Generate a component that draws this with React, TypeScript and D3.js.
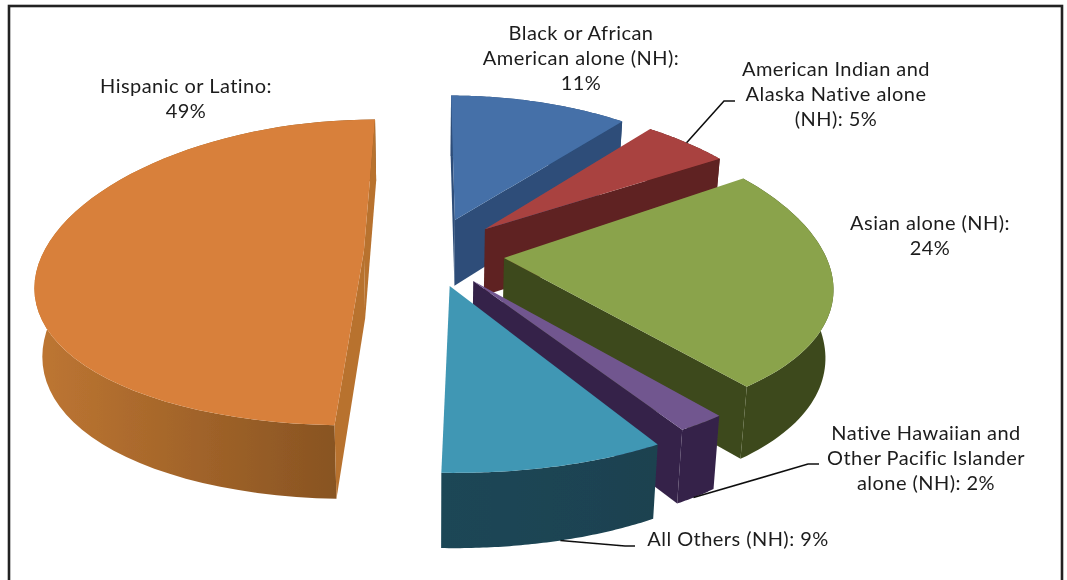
import React from "react";
import * as d3 from "d3";

// ---- data ----
const categories = [
  "Black or African American alone (NH)",
  "American Indian and Alaska Native alone (NH)",
  "Asian alone (NH)",
  "Native Hawaiian and Other Pacific Islander alone (NH)",
  "All Others (NH)",
  "Hispanic or Latino",
];
const shares = [11, 5.2, 23.5, 2, 8.8, 49.5];
const labelLines = [
  ["Black or African", "American alone (NH):", "11%"],
  ["American Indian and", "Alaska Native alone", "(NH): 5%"],
  ["Asian alone (NH):", "24%"],
  ["Native Hawaiian and", "Other Pacific Islander", "alone (NH): 2%"],
  ["All Others (NH): 9%"],
  ["Hispanic or Latino:", "49%"],
];

// ---- styles and layout ----
const explosions = [0.23, 0.23, 0.23, 0.23, 0.23, 0.21];
const rimLift = [0, 0, 0.04, 0.04, 0, 0];
const topColors = ["#4570A8", "#A94341", "#8AA34C", "#71568F", "#3F97B4", "#D8803A"];
const cutColors = ["#2D4E79", "#5E2120", "#3E4A1B", "#35234A", "#1B4352", "#B8722F"];
const rimColorsLeft = ["#2D4E79", "#5E2120", "#3E4A1B", "#35234A", "#1B4656", "#BE7632"];
const rimColorsRight = ["#2D4E79", "#5E2120", "#3E4A1B", "#35234A", "#1A4250", "#814F20"];
const labelCenters = [581, 836, 930, 926, 738, 186];
const labelBaselines = [40, 76, 230, 440, 546, 93];
const lineStep = 25.2;
// [slice, fraction along the rim, on lower rim?, elbow, end]
const leaders: [number, number, boolean, [number, number], [number, number]][] = [
  [1, 0.5, false, [724, 101], [735, 101]],
  [3, 0.57, true, [808, 464], [819, 464]],
  [4, 0.47, true, [625, 546], [635, 546]],
];

const W = 1067;
const H = 580;
const cx = 431, cy = 251.5, fx = 320, fy = 150, kx = 0.2, ky = 0.14;
const depth = 67, depthK = 0.09, baseShrink = 0.98;

type Pt = { x: number; y: number };
const top = (p: Pt): [number, number] => [
  cx + (fx * p.x) / (1 - kx * p.y),
  cy + (fy * p.y) / (1 - ky * p.y),
];
const base = (p: Pt): [number, number] => {
  const [sx, sy] = top(p);
  return [cx + (sx - cx) * baseShrink, sy + depth / (1 - depthK * p.y)];
};

const pieGen = d3.pie<number>().sort(null).startAngle(0).endAngle(2 * Math.PI);
const arcs = pieGen(shares);
const poly = d3.line();
const closed = (pts: [number, number][]) => poly(pts) + "Z";

const slices = arcs.map((a, i) => {
  const mid = (a.startAngle + a.endAngle) / 2;
  const apex: Pt = { x: explosions[i] * Math.sin(mid), y: -explosions[i] * Math.cos(mid) };
  const angle = d3.scaleLinear().domain([0, 1]).range([a.startAngle, a.endAngle]);
  const rimAt = (f: number): Pt => ({
    x: apex.x + Math.sin(angle(f)),
    y: apex.y - Math.cos(angle(f)) - rimLift[i],
  });
  const fractions = d3.range(0, 61).map((d) => d / 60);
  const rim = fractions.map(rimAt);
  const topFace = [top(apex), ...rim.map(top)];
  const rimWall = [...rim.map(top), ...rim.map(base).reverse()];
  const first = rim[0];
  const last = rim[rim.length - 1];
  const startCut = [top(apex), top(first), base(first), base(apex)];
  const endCut = [top(last), top(apex), base(apex), base(last)];
  const xs = rimWall.map((p) => p[0]);
  return {
    i, apex, rimAt, topFace, rimWall, startCut, endCut,
    x0: d3.min(xs) as number,
    x1: d3.max(xs) as number,
    startVisible: d3.polygonArea(startCut) > 0,
    endVisible: d3.polygonArea(endCut) > 0,
  };
});

export default function App() {
  return (
    <svg
      width={W}
      height={H}
      viewBox={`0 0 ${W} ${H}`}
      style={{ position: "absolute", left: 0, top: 0, background: "#fff" }}
    >
      <defs>
        <filter id="soft" x="-5%" y="-5%" width="110%" height="110%">
          <feGaussianBlur stdDeviation="0.6" />
        </filter>
        <filter id="softText" x="-5%" y="-5%" width="110%" height="110%">
          <feGaussianBlur stdDeviation="0.3" />
        </filter>
        {slices.map((s) => (
          <linearGradient
            key={s.i}
            id={`rim${s.i}`}
            gradientUnits="userSpaceOnUse"
            x1={s.x0}
            x2={s.x1}
            y1={0}
            y2={0}
          >
            <stop offset="0" stopColor={rimColorsLeft[s.i]} />
            <stop offset="1" stopColor={rimColorsRight[s.i]} />
          </linearGradient>
        ))}
      </defs>
      <rect x={9} y={6} width={1053} height={590} fill="none" stroke="#222" strokeWidth={2.6} />
      <g filter="url(#soft)">
        {slices.map((s) => (
          <g key={s.i} aria-label={categories[s.i]}>
            <path d={closed(s.rimWall as [number, number][])} fill={`url(#rim${s.i})`} />
            {s.startVisible && <path d={closed(s.startCut)} fill={cutColors[s.i]} />}
            {s.endVisible && <path d={closed(s.endCut)} fill={cutColors[s.i]} />}
            <path d={closed(s.topFace as [number, number][])} fill={topColors[s.i]} />
          </g>
        ))}
        {leaders.map(([i, f, lower, elbow, end], n) => {
          const p = slices[i].rimAt(f);
          const start = lower ? base(p) : top(p);
          return <path key={n} d={poly([start, elbow, end]) as string} fill="none" stroke="#111" strokeWidth={1.6} />;
        })}
      </g>
      <g
        fontFamily="Lato, sans-serif"
        fontSize={20}
        letterSpacing={0.45}
        fill="#1c1c1c"
        textAnchor="middle"
        filter="url(#softText)"
      >
        {labelLines.map((lines, i) => (
          <text key={i} x={labelCenters[i]} y={labelBaselines[i]}>
            {lines.map((l, j) => (
              <tspan key={j} x={labelCenters[i]} y={labelBaselines[i] + j * lineStep}>
                {l}
              </tspan>
            ))}
          </text>
        ))}
      </g>
    </svg>
  );
}
